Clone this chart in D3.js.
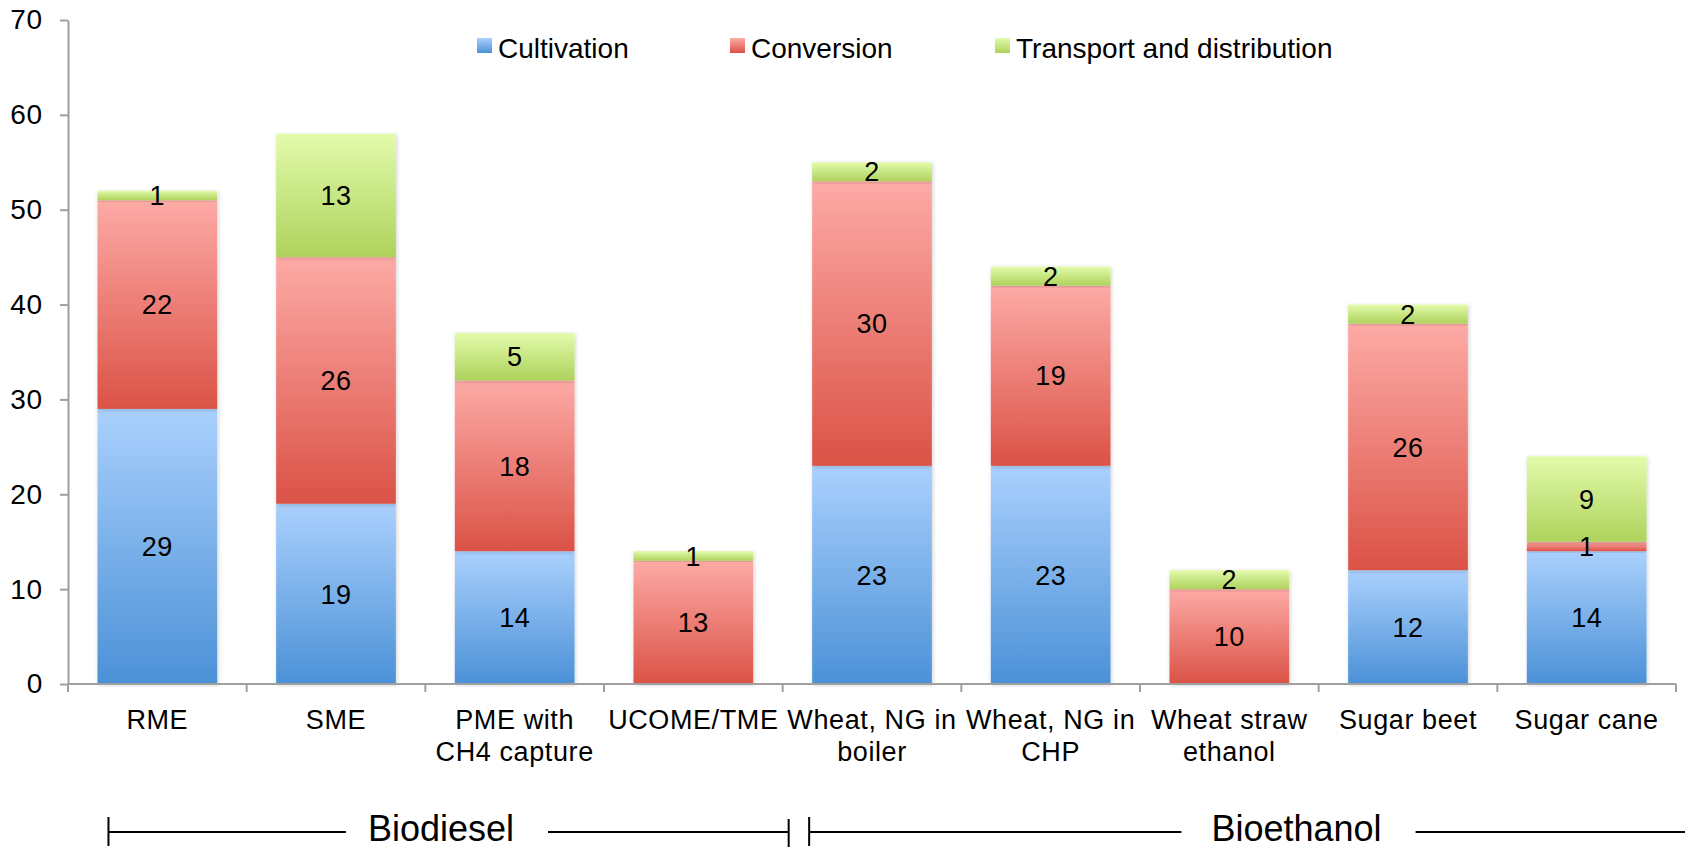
<!DOCTYPE html>
<html>
<head>
<meta charset="utf-8">
<script src="https://cdn.jsdelivr.net/npm/d3@7"></script>
<style>
  html, body { margin: 0; padding: 0; background: #fff; }
  svg { display: block; font-family: Arial, "Liberation Sans", sans-serif; }
</style>
</head>
<body>
<svg id="chart" width="1685" height="849"></svg>
<script>
// ---- Data ----
const categories = ["RME", "SME", "PME with CH4 capture", "UCOME/TME", "Wheat, NG in boiler",
                    "Wheat, NG in CHP", "Wheat straw ethanol", "Sugar beet", "Sugar cane"];
const seriesNames = ["Cultivation", "Conversion", "Transport and distribution"];
const cultivation = [29, 19, 14, 0, 23, 23, 0, 12, 14];
const conversion  = [22, 26, 18, 13, 30, 19, 10, 26, 1];
const transport   = [1, 13, 5, 1, 2, 2, 2, 2, 9];
const yTicks = [0, 10, 20, 30, 40, 50, 60, 70];
const groups = [
  { name: "Biodiesel", from: 0, to: 3 },
  { name: "Bioethanol", from: 4, to: 8 }
];

// ---- Layout ----
const W = 1685, H = 849;
const margin = { top: 20, right: 9, bottom: 165, left: 68 };
const iw = W - margin.left - margin.right;
const ih = H - margin.top - margin.bottom;

const svg = d3.select("#chart");
const defs = svg.append("defs");

const grads = [
  { id: "gCult", top: "#aad0fd", bottom: "#4b91d7" },
  { id: "gConv", top: "#fdaaa6", bottom: "#db5246" },
  { id: "gTrans", top: "#e2fbab", bottom: "#aed25c" }
];
grads.forEach(g => {
  const lg = defs.append("linearGradient").attr("id", g.id)
    .attr("x1", 0).attr("y1", 0).attr("x2", 0).attr("y2", 1);
  lg.append("stop").attr("offset", "0%").attr("stop-color", g.top);
  lg.append("stop").attr("offset", "100%").attr("stop-color", g.bottom);
});
const filt = defs.append("filter").attr("id", "shadow")
  .attr("x", "-10%").attr("y", "-10%").attr("width", "120%").attr("height", "120%");
filt.append("feDropShadow").attr("dx", 1).attr("dy", 1).attr("stdDeviation", 2)
  .attr("flood-color", "#000").attr("flood-opacity", 0.18);

const g = svg.append("g").attr("transform", `translate(${margin.left},${margin.top})`);

const x = d3.scaleBand().domain(categories).range([0, iw]).paddingInner(0.33).paddingOuter(0.165);
const y = d3.scaleLinear().domain([0, 70]).range([ih, 0]);

const table = categories.map((c, i) => ({
  cat: c, Cultivation: cultivation[i], Conversion: conversion[i], "Transport and distribution": transport[i]
}));
const stack = d3.stack().keys(seriesNames)(table);
const fills = ["url(#gCult)", "url(#gConv)", "url(#gTrans)"];

// bars
const layers = g.selectAll("g.layer").data(stack).join("g").attr("class", "layer")
  .attr("fill", (d, i) => fills[i]);
layers.selectAll("rect").data(d => d.filter(s => s[1] - s[0] > 0)).join("rect")
  .attr("x", d => x(d.data.cat))
  .attr("width", x.bandwidth())
  .attr("y", d => y(d[1]))
  .attr("height", d => y(d[0]) - y(d[1]))
  .attr("filter", "url(#shadow)");

// data labels
stack.forEach(layer => {
  g.append("g").selectAll("text").data(layer.filter(s => s[1] - s[0] > 0)).join("text")
    .attr("x", d => x(d.data.cat) + x.bandwidth() / 2)
    .attr("y", d => y((d[0] + d[1]) / 2))
    .attr("dy", "0.36em")
    .attr("text-anchor", "middle")
    .attr("font-size", 27)
    .attr("letter-spacing", 0.5)
    .attr("fill", "#000")
    .text(d => d[1] - d[0]);
});

// y axis
const yAxis = g.append("g").call(d3.axisLeft(y).tickValues(yTicks).tickSize(8).tickPadding(17).tickSizeOuter(0));
yAxis.select(".domain").attr("stroke", "#a0a0a0").attr("stroke-width", 2);
yAxis.selectAll(".tick line").attr("stroke", "#a0a0a0").attr("stroke-width", 2);
yAxis.selectAll(".tick text").attr("font-size", 28).attr("letter-spacing", 0.8).attr("fill", "#000")
  .attr("font-family", "Arial, 'Liberation Sans', sans-serif");

// x axis
const xa = g.append("g").attr("transform", `translate(0,${ih})`);
xa.append("line").attr("x1", 0).attr("x2", iw).attr("y1", 0).attr("y2", 0)
  .attr("stroke", "#a0a0a0").attr("stroke-width", 2);
const boundaries = d3.range(categories.length + 1).map(i => i * x.step());
xa.selectAll("line.tk").data(boundaries).join("line").attr("class", "tk")
  .attr("x1", d => d).attr("x2", d => d).attr("y1", 0).attr("y2", 8)
  .attr("stroke", "#a0a0a0").attr("stroke-width", 2);

// category labels with wrapping
const maxW = 172;
categories.forEach(c => {
  const t = xa.append("text")
    .attr("text-anchor", "middle")
    .attr("font-size", 27)
    .attr("letter-spacing", 0.6)
    .attr("fill", "#000");
  const cx = x(c) + x.bandwidth() / 2;
  const words = c.split(" ");
  let lines = [], cur = [];
  const probe = t.append("tspan");
  words.forEach(w => {
    const trial = cur.concat([w]).join(" ");
    probe.text(trial);
    if (cur.length && probe.node().getComputedTextLength() > maxW) {
      lines.push(cur.join(" "));
      cur = [w];
    } else cur.push(w);
  });
  lines.push(cur.join(" "));
  probe.remove();
  lines.forEach((ln, i) => {
    t.append("tspan").attr("x", cx).attr("y", 45 + i * 32).text(ln);
  });
});

// group brackets
const gy = ih + 148;
const bracketG = g.append("g").attr("stroke", "#000").attr("stroke-width", 2);
const gFont = 36;
const labelCenters = [441, 1296.5];
const leftGaps = [22, 30];
groups.forEach((grp, gi) => {
  const startX = gi === 0 ? x(categories[grp.from]) + 11 : x(categories[grp.from]) - 3;
  const endX = gi === 0 ? (grp.to + 1) * x.step() + 6 : W - margin.left;
  const cx = labelCenters[gi] - margin.left;
  const lab = g.append("text")
    .attr("font-size", gFont).attr("fill", "#000").attr("text-anchor", "middle")
    .attr("x", cx).attr("y", gy + 9)
    .text(grp.name);
  const tw = lab.node().getComputedTextLength();
  bracketG.append("line").attr("x1", startX).attr("x2", cx - tw / 2 - leftGaps[gi]).attr("y1", gy).attr("y2", gy);
  bracketG.append("line").attr("x1", cx + tw / 2 + 34).attr("x2", endX).attr("y1", gy).attr("y2", gy);
  bracketG.append("line").attr("x1", startX).attr("x2", startX).attr("y1", gy - 15).attr("y2", gy + 14);
  if (gi === 0) {
    bracketG.append("line").attr("x1", endX).attr("x2", endX).attr("y1", gy - 13).attr("y2", gy + 15);
  }
});

// legend
const legendX = [477, 730, 995];
const lg = svg.append("g");
seriesNames.forEach((s, i) => {
  lg.append("rect").attr("x", legendX[i]).attr("y", 38).attr("width", 15).attr("height", 15)
    .attr("fill", fills[i]);
  lg.append("text").attr("x", legendX[i] + 21).attr("y", 58)
    .attr("font-size", 28).attr("fill", "#000").text(s);
});
</script>
</body>
</html>
